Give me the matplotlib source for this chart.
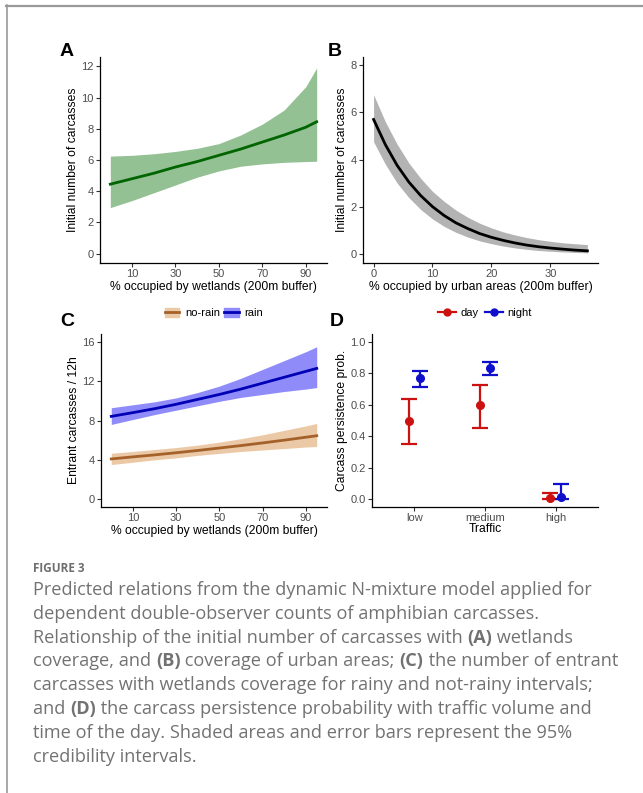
import numpy as np
import matplotlib
matplotlib.use("Agg")
import matplotlib.pyplot as plt
from matplotlib.lines import Line2D
from matplotlib.patches import Patch

# ------------------------------------------------------
# data
# ------------------------------------------------------

# A: initial number of carcasses vs wetlands
wet_x = [0, 10, 20, 30, 40, 50, 60, 70, 80, 90, 95]
a_fit = [4.45, 4.80, 5.15, 5.55, 5.90, 6.30, 6.70, 7.15, 7.60, 8.10, 8.45]
a_hi = [6.25, 6.30, 6.40, 6.55, 6.75, 7.05, 7.60, 8.30, 9.20, 10.70, 11.90]
a_lo = [2.95, 3.40, 3.90, 4.40, 4.90, 5.30, 5.60, 5.75, 5.85, 5.90, 5.92]

# B: initial number of carcasses vs urban areas
urb_x = [0, 2, 4, 6, 8, 10, 12, 14, 16, 18, 20, 22, 24, 26, 28, 30, 32, 34, 36.3]
b_fit = [5.70, 4.63, 3.75, 3.04, 2.47, 2.00, 1.62, 1.31, 1.07, 0.86, 0.70,
         0.57, 0.46, 0.37, 0.30, 0.245, 0.20, 0.16, 0.125]
b_hi = [6.75, 5.60, 4.65, 3.85, 3.20, 2.65, 2.22, 1.85, 1.55, 1.30, 1.10,
        0.93, 0.80, 0.69, 0.60, 0.53, 0.47, 0.43, 0.39]
b_lo = [4.75, 3.80, 3.00, 2.38, 1.88, 1.48, 1.16, 0.91, 0.71, 0.55, 0.43,
        0.33, 0.25, 0.19, 0.14, 0.11, 0.08, 0.06, 0.04]

# C: entrant carcasses vs wetlands, rain / no-rain
rain_fit = [8.42, 8.80, 9.20, 9.65, 10.15, 10.65, 11.20, 11.80, 12.40, 13.00, 13.30]
rain_hi = [9.30, 9.60, 9.90, 10.30, 10.85, 11.50, 12.30, 13.20, 14.10, 15.00, 15.50]
rain_lo = [7.60, 8.10, 8.60, 9.05, 9.50, 9.95, 10.35, 10.65, 10.95, 11.20, 11.35]
norain_fit = [4.09, 4.30, 4.50, 4.72, 4.95, 5.20, 5.45, 5.72, 6.00, 6.30, 6.45]
norain_hi = [4.67, 4.85, 5.05, 5.25, 5.50, 5.80, 6.15, 6.55, 7.00, 7.45, 7.70]
norain_lo = [3.52, 3.75, 4.00, 4.20, 4.45, 4.65, 4.85, 5.00, 5.15, 5.30, 5.35]

# D: persistence probability by traffic and time of day
traffic = ["low", "medium", "high"]
day_mean = [0.495, 0.597, 0.005]
day_lo = [0.352, 0.452, 0.0]
day_hi = [0.638, 0.725, 0.042]
night_mean = [0.768, 0.833, 0.014]
night_lo = [0.713, 0.790, 0.0]
night_hi = [0.816, 0.870, 0.098]

# caption, *...* marks bold pieces
caption = [
    "Predicted relations from the dynamic N-mixture model applied for",
    "dependent double-observer counts of amphibian carcasses.",
    "Relationship of the initial number of carcasses with *(A)* wetlands",
    "coverage, and *(B)* coverage of urban areas; *(C)* the number of entrant",
    "carcasses with wetlands coverage for rainy and not-rainy intervals;",
    "and *(D)* the carcass persistence probability with traffic volume and",
    "time of the day. Shaded areas and error bars represent the 95%",
    "credibility intervals.",
]

# ------------------------------------------------------
# layout helpers (pixel boxes)
# ------------------------------------------------------

W, H = 643, 793
plt.rcParams['font.family'] = ['Liberation Sans', 'DejaVu Sans']

fig = plt.figure(figsize=(W / 100, H / 100), dpi=100)


def px_axes(l, t, r, b):
    return fig.add_axes([l / W, 1 - b / H, (r - l) / W, (b - t) / H])


def style(ax):
    for s in ["top", "right"]:
        ax.spines[s].set_visible(False)
    for s in ["left", "bottom"]:
        ax.spines[s].set_linewidth(0.9)
        ax.spines[s].set_color("black")
    ax.tick_params(length=3, width=0.8, color="#333333",
                   labelsize=8, labelcolor="#4D4D4D", pad=1.5)


LAB = 8.7

# frame around figure
fig.add_artist(Line2D([6.5 / W, 6.5 / W], [0, 1 - 5 / H], color="#9a9a9a", lw=1.2))
fig.add_artist(Line2D([6 / W, 1], [1 - 5.5 / H, 1 - 5.5 / H], color="#9a9a9a", lw=1.6))

# ------------------------------------------------------
# A
# ------------------------------------------------------
ax = px_axes(100, 57, 327, 263)
ax.fill_between(wet_x, a_lo, a_hi, color="#93c193", lw=0)
ax.plot(wet_x, a_fit, color="#006400", lw=2.0)
ax.set_xlim(-4.75, 99.75)
ax.set_ylim(-0.6, 12.6)
ax.set_xticks([10, 30, 50, 70, 90])
ax.set_yticks(range(0, 13, 2))
ax.set_xlabel("% occupied by wetlands (200m buffer)", fontsize=LAB, labelpad=1)
ax.set_ylabel("Initial number of carcasses", fontsize=LAB, labelpad=1.5)
style(ax)

# ------------------------------------------------------
# B
# ------------------------------------------------------
ax = px_axes(363, 57, 598, 263)
ax.fill_between(urb_x, b_lo, b_hi, color="#b3b3b3", lw=0)
ax.plot(urb_x, b_fit, color="black", lw=2.0)
ax.set_xlim(-1.8, 38.1)
ax.set_ylim(-0.39, 8.35)
ax.set_xticks([0, 10, 20, 30])
ax.set_yticks([0, 2, 4, 6, 8])
ax.set_xlabel("% occupied by urban areas (200m buffer)", fontsize=LAB, labelpad=1)
ax.set_ylabel("Initial number of carcasses", fontsize=LAB, labelpad=1.5)
style(ax)

# ------------------------------------------------------
# C
# ------------------------------------------------------
ax = px_axes(101, 334, 327, 507)
ax.fill_between(wet_x, norain_lo, norain_hi, color="#ecc9a6", lw=0)
ax.fill_between(wet_x, rain_lo, rain_hi, color="#8f8cfa", lw=0)
ax.plot(wet_x, norain_fit, color="#a5612a", lw=2.0)
ax.plot(wet_x, rain_fit, color="#0000b4", lw=2.0)
ax.set_xlim(-4.75, 99.75)
ax.set_ylim(-0.8, 16.8)
ax.set_xticks([10, 30, 50, 70, 90])
ax.set_yticks([0, 4, 8, 12, 16])
ax.set_xlabel("% occupied by wetlands (200m buffer)", fontsize=LAB, labelpad=1)
ax.set_ylabel("Entrant carcasses / 12h", fontsize=LAB, labelpad=1.5)
style(ax)
handles = [(Patch(color="#ecc9a6"), Line2D([], [], color="#a5612a", lw=2)),
           (Patch(color="#8f8cfa"), Line2D([], [], color="#0000b4", lw=2))]
ax.legend(handles, ["no-rain", "rain"], loc="lower center", bbox_to_anchor=(0.5, 1.06),
          ncol=2, frameon=False, fontsize=8, handlelength=1.3, handleheight=0.9,
          handletextpad=0.5, columnspacing=0.4, borderpad=0)

# ------------------------------------------------------
# D
# ------------------------------------------------------
ax = px_axes(372, 334, 598, 507)
pos = np.arange(1, len(traffic) + 1)
dodge = 0.075
for off, m, lo, hi, col in [(-dodge, day_mean, day_lo, day_hi, "#cc1111"),
                            (dodge, night_mean, night_lo, night_hi, "#1010cc")]:
    m = np.array(m)
    err = [m - np.array(lo), np.array(hi) - m]
    ax.errorbar(pos + off, m, yerr=err, fmt="o", color=col, ms=5.5,
                elinewidth=1.6, capsize=6, capthick=1.6)
ax.set_xlim(0.4, 3.6)
ax.set_ylim(-0.05, 1.05)
ax.set_xticks(pos)
ax.set_xticklabels(traffic)
ax.set_yticks([0, 0.2, 0.4, 0.6, 0.8, 1.0])
ax.set_yticklabels(["0.0", "0.2", "0.4", "0.6", "0.8", "1.0"])
ax.set_xlabel("Traffic", fontsize=LAB, labelpad=0)
ax.set_ylabel("Carcass persistence prob.", fontsize=LAB, labelpad=1.5)
style(ax)
handles = [Line2D([], [], color="#cc1111", marker="o", ms=5, lw=1.6),
           Line2D([], [], color="#1010cc", marker="o", ms=5, lw=1.6)]
ax.legend(handles, ["day", "night"], loc="lower center", bbox_to_anchor=(0.5, 1.06),
          ncol=2, frameon=False, fontsize=8, handlelength=1.6,
          handletextpad=0.4, columnspacing=0.6, borderpad=0)

# ------------------------------------------------------
# panel letters
# ------------------------------------------------------
for lab, x, y in [("A", 67, 52), ("B", 335, 52), ("C", 67, 322), ("D", 337, 322)]:
    fig.text(x / W, 1 - y / H, lab, fontsize=14, fontweight="bold", ha="center", va="center")

# ------------------------------------------------------
# caption
# ------------------------------------------------------
cap_font = ["Open Sans", "DejaVu Sans"]
fig.text(33 / W, 1 - 568 / H, "FIGURE 3", fontsize=8.5, color="#6e6e6e",
         fontweight="bold", family=cap_font, va="center")

renderer = fig.canvas.get_renderer()
for i, line in enumerate(caption):
    x = 33.0
    y = 1 - (590 + i * 23.8) / H
    for k, piece in enumerate(line.split("*")):
        if not piece:
            continue
        t = fig.text(x / W, y, piece, fontsize=13.1, color="#727272", family=cap_font,
                     fontweight="bold" if k % 2 else "normal", va="center")
        x += t.get_window_extent(renderer).width

fig.savefig("out.png", dpi=100)
